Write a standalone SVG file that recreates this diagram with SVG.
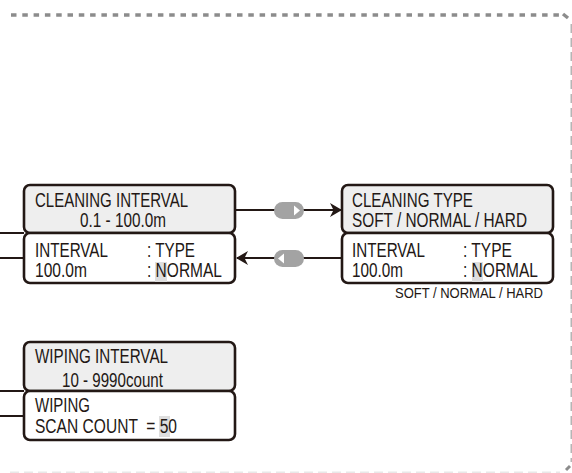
<svg xmlns="http://www.w3.org/2000/svg" width="572" height="473" viewBox="0 0 572 473">
<style>
.bt{fill:#eeeeee;stroke:#231815;stroke-width:2.6}
.bb{fill:#ffffff;stroke:#231815;stroke-width:2.6}
.t{font-family:"Liberation Sans",Arial,sans-serif;font-size:19.5px;fill:#231815}
.s{font-family:"Liberation Sans",Arial,sans-serif;font-size:15.5px;fill:#231815}
.hl{fill:#dedede}
.ln{stroke:#231815;stroke-width:2;fill:none}
.pill{fill:#a3a3a3}
.tri{fill:#ffffff}
.brd{fill:none;stroke:#8c8c8c;stroke-width:3.5;stroke-dasharray:5.5 5.8}
.brd2{fill:none;stroke:#b5b5b5;stroke-width:2;stroke-dasharray:9 5}
</style>
<defs>
<marker id="ah" markerWidth="12" markerHeight="14" refX="11" refY="7" orient="auto" markerUnits="userSpaceOnUse">
<path d="M0,0 L12,7 L0,14 L3.5,7 Z" fill="#231815"/>
</marker>
</defs>
<g id="border">
<line class="brd" x1="11" y1="15" x2="560" y2="15"/>
<path d="M563,14 L568,18" stroke="#8c8c8c" stroke-width="3.5" fill="none"/>
<line class="brd2" x1="571.5" y1="24" x2="571.5" y2="462"/>
<path d="M566,470 L570,466" stroke="#8c8c8c" stroke-width="3" fill="none"/>
<line class="brd2" x1="10" y1="472.5" x2="560" y2="472.5" style="stroke:#e8e8e8"/>
</g>
<g id="connectors">
<line class="ln" x1="0" y1="233" x2="24" y2="233"/>
<line class="ln" x1="0" y1="258" x2="24" y2="258"/>
<line class="ln" x1="0" y1="391" x2="24" y2="391"/>
<line class="ln" x1="0" y1="416" x2="24" y2="416"/>
<line class="ln" x1="235" y1="210" x2="341" y2="210" marker-end="url(#ah)"/>
<line class="ln" x1="342" y1="258" x2="237" y2="258" marker-end="url(#ah)"/>
<rect class="pill" x="274" y="202" width="30" height="17" rx="8.5"/>
<path class="tri" d="M294,205.5 L300,210.5 L294,215.5 Z"/>
<rect class="pill" x="274" y="250" width="30" height="17" rx="8.5"/>
<path class="tri" d="M284,253.5 L278,258.5 L284,263.5 Z"/>
</g>
<g id="cleaning-interval">
<rect class="bt" x="24" y="185" width="211" height="48" rx="6"/>
<rect class="bb" x="24" y="233" width="211" height="50" rx="6"/>
<rect class="hl" x="155" y="262" width="12" height="20"/>
<g transform="scale(0.88,1)">
<text class="t" x="39.77" y="207" textLength="173.9" lengthAdjust="spacingAndGlyphs">CLEANING INTERVAL</text>
<text class="t" x="90.91" y="227" textLength="97.7" lengthAdjust="spacingAndGlyphs">0.1 - 100.0m</text>
<text class="t" x="39.77" y="257" textLength="82.95" lengthAdjust="spacingAndGlyphs">INTERVAL</text>
<text class="t" x="167.05" y="257" textLength="54.55" lengthAdjust="spacingAndGlyphs">: TYPE</text>
<text class="t" x="39.77" y="277" textLength="59.09" lengthAdjust="spacingAndGlyphs">100.0m</text>
<text class="t" x="167.05" y="277" textLength="85.23" lengthAdjust="spacingAndGlyphs">: NORMAL</text>
</g>
</g>
<g id="cleaning-type">
<rect class="bt" x="342" y="185" width="211" height="48" rx="6"/>
<rect class="bb" x="342" y="233" width="211" height="50" rx="6"/>
<rect class="hl" x="472" y="262" width="11" height="20"/>
<g transform="scale(0.88,1)">
<text class="t" x="400" y="207" textLength="137.5" lengthAdjust="spacingAndGlyphs">CLEANING TYPE</text>
<text class="t" x="400" y="227" textLength="198.86" lengthAdjust="spacingAndGlyphs">SOFT / NORMAL / HARD</text>
<text class="t" x="400" y="257" textLength="82.95" lengthAdjust="spacingAndGlyphs">INTERVAL</text>
<text class="t" x="526.14" y="257" textLength="55.68" lengthAdjust="spacingAndGlyphs">: TYPE</text>
<text class="t" x="400" y="277" textLength="57.95" lengthAdjust="spacingAndGlyphs">100.0m</text>
<text class="t" x="526.14" y="277" textLength="85.23" lengthAdjust="spacingAndGlyphs">: NORMAL</text>
<text class="s" x="448.86" y="298" textLength="168.18" lengthAdjust="spacingAndGlyphs">SOFT / NORMAL / HARD</text>
</g>
</g>
<g id="wiping-interval">
<rect class="bt" x="24" y="342" width="211" height="49" rx="6"/>
<rect class="bb" x="24" y="391" width="211" height="49" rx="6"/>
<rect class="hl" x="159" y="416" width="11" height="21"/>
<g transform="scale(0.88,1)">
<text class="t" x="39.77" y="363" textLength="151.14" lengthAdjust="spacingAndGlyphs">WIPING INTERVAL</text>
<text class="t" x="70.45" y="387" textLength="114.77" lengthAdjust="spacingAndGlyphs">10 - 9990count</text>
<text class="t" x="39.77" y="412" textLength="62.5" lengthAdjust="spacingAndGlyphs">WIPING</text>
<text class="t" x="39.77" y="433" xml:space="preserve" textLength="161.36" lengthAdjust="spacingAndGlyphs">SCAN COUNT  = 50</text>
</g>
</g>
</svg>
